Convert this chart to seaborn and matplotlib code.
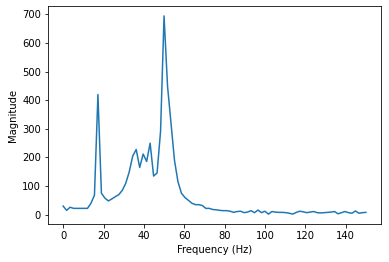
import numpy as np
import pandas as pd
import matplotlib
matplotlib.use("Agg")
import matplotlib.pyplot as plt
import seaborn as sns

# Frequency bins (rfft of 174 samples at 300 Hz -> 88 bins from 0 to 150 Hz)
n_bins = 88
freq_max = 150
frequency = np.linspace(0, freq_max, n_bins)

magnitude = [
    30, 15, 26, 22, 22, 22, 22, 22, 40, 68,
    420, 75, 58, 48, 55, 63, 70, 85, 110, 150,
    205, 228, 165, 212, 186, 250, 135, 146, 292, 695,
    450, 320, 190, 115, 75, 60, 50, 40, 35, 35,
    32, 22, 22, 18, 17, 15, 14, 14, 12, 8,
    11, 12, 7, 9, 14, 7, 16, 7, 12, 2,
    11, 9, 8, 8, 7, 5, 2, 8, 12, 10,
    7, 9, 11, 7, 6, 7, 8, 9, 11, 3,
    7, 11, 7, 5, 13, 5, 7, 8,
]

df = pd.DataFrame({"Frequency (Hz)": frequency, "Magnitude": magnitude})

fig = plt.figure(figsize=(389 / 72, 262 / 72), dpi=72)
ax = fig.add_axes([48 / 389, 1 - 224 / 262, (381 - 48) / 389, (224 - 6) / 262])
sns.lineplot(data=df, x="Frequency (Hz)", y="Magnitude", ax=ax,
             color="#1f77b4", linewidth=1.5)
ax.set_xticks([0, 20, 40, 60, 80, 100, 120, 140])
ax.set_yticks([0, 100, 200, 300, 400, 500, 600, 700])
fig.savefig("out.png", dpi=72)
